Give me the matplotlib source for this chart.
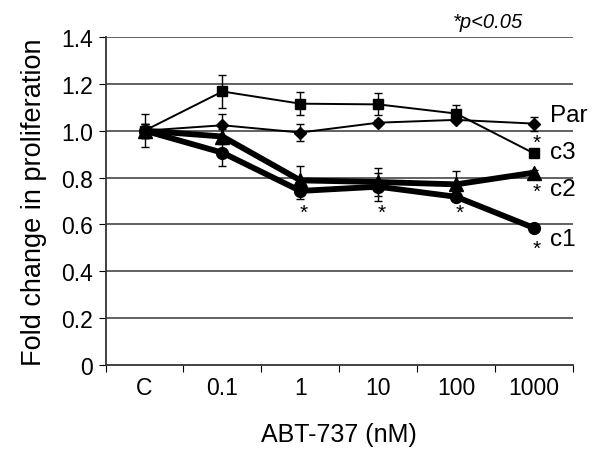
import numpy as np
import matplotlib
matplotlib.use("Agg")
import matplotlib.pyplot as plt

plt.rcParams['font.family'] = ['Liberation Sans', 'DejaVu Sans']

# categories on the x axis (ABT-737 concentration, nM)
categories = ["C", "0.1", "1", "10", "100", "1000"]

# fold change in proliferation
par = [1.00, 1.023, 0.992, 1.034, 1.046, 1.030]
par_err = [0.03, 0.05, 0.035, 0.01, 0.01, 0.03]
c3 = [1.00, 1.167, 1.115, 1.112, 1.073, 0.903]
c3_err = [0.07, 0.07, 0.05, 0.047, 0.035, 0.01]
c2 = [1.00, 0.975, 0.788, 0.781, 0.771, 0.821]
c2_err = [0.03, 0.03, 0.06, 0.06, 0.055, 0.01]
c1 = [1.00, 0.906, 0.743, 0.761, 0.718, 0.585]
c1_err = [0.03, 0.055, 0.035, 0.06, 0.015, 0.01]

# series labels at the right end and their y positions
series_labels = ["Par", "c3", "c2", "c1"]
label_y = [1.066, 0.908, 0.750, 0.540]

# significance stars (category index, y)
star_x = [2, 3, 4, 5, 5, 5]
star_y = [0.65, 0.65, 0.65, 0.95, 0.74, 0.50]

yticks = [0, 0.2, 0.4, 0.6, 0.8, 1.0, 1.2, 1.4]
ytick_labels = ["0", "0.2", "0.4", "0.6", "0.8", "1.0", "1.2", "1.4"]

fig = plt.figure(figsize=(6, 4.56), dpi=100)
ax = fig.add_axes([0.176, 0.197, 0.779, 0.72])

x = np.arange(len(categories))

for yv in yticks[1:]:
    ax.axhline(yv, color="#555555", lw=1.3, zorder=0)

ax.errorbar(x, par, yerr=par_err, color="black", lw=1.4, marker="D", ms=6,
            capsize=3, elinewidth=1, zorder=3)
ax.errorbar(x, c3, yerr=c3_err, color="black", lw=1.4, marker="s", ms=7.5,
            capsize=3, elinewidth=1, zorder=3)
ax.errorbar(x, c2, yerr=c2_err, color="black", lw=4.2, marker="^", ms=9.5,
            capsize=3, elinewidth=1, zorder=3)
ax.errorbar(x, c1, yerr=c1_err, color="black", lw=4.2, marker="o", ms=8.5,
            capsize=3, elinewidth=1, zorder=3)

for lab, ly in zip(series_labels, label_y):
    ax.text(5.2, ly, lab, fontsize=17.5, va="center", ha="left")

for sx, sy in zip(star_x, star_y):
    ax.text(sx + 0.04, sy, "*", fontsize=15, ha="center", va="center")

ax.set_xlim(-0.5, 5.5)
ax.set_ylim(0, 1.4)
ax.set_yticks(yticks)
ax.set_yticklabels(ytick_labels, fontsize=16.5)
ax.set_xticks(np.arange(-0.5, 6, 1))
ax.set_xticklabels([])
ax.set_xticks(x, minor=True)
ax.set_xticklabels(categories, minor=True, fontsize=16.5)
ax.tick_params(axis="x", which="minor", length=0, pad=8)
ax.tick_params(axis="x", which="major", length=5, direction="out")
ax.tick_params(axis="y", length=5, direction="out", pad=4)

for s in ["top", "right"]:
    ax.spines[s].set_visible(False)
ax.spines["left"].set_color("#333333")
ax.spines["bottom"].set_color("#333333")
ax.spines["left"].set_linewidth(1.3)
ax.spines["bottom"].set_linewidth(1.3)

ax.set_xlabel("ABT-737 (nM)", fontsize=18, labelpad=16)
ax.set_ylabel("Fold change in proliferation", fontsize=19.5, labelpad=10)

fig.text(488 / 600, 1 - 22 / 456, "*p<0.05", fontsize=14.5, style="italic",
         ha="center", va="center")

fig.savefig("out.png", dpi=100)
